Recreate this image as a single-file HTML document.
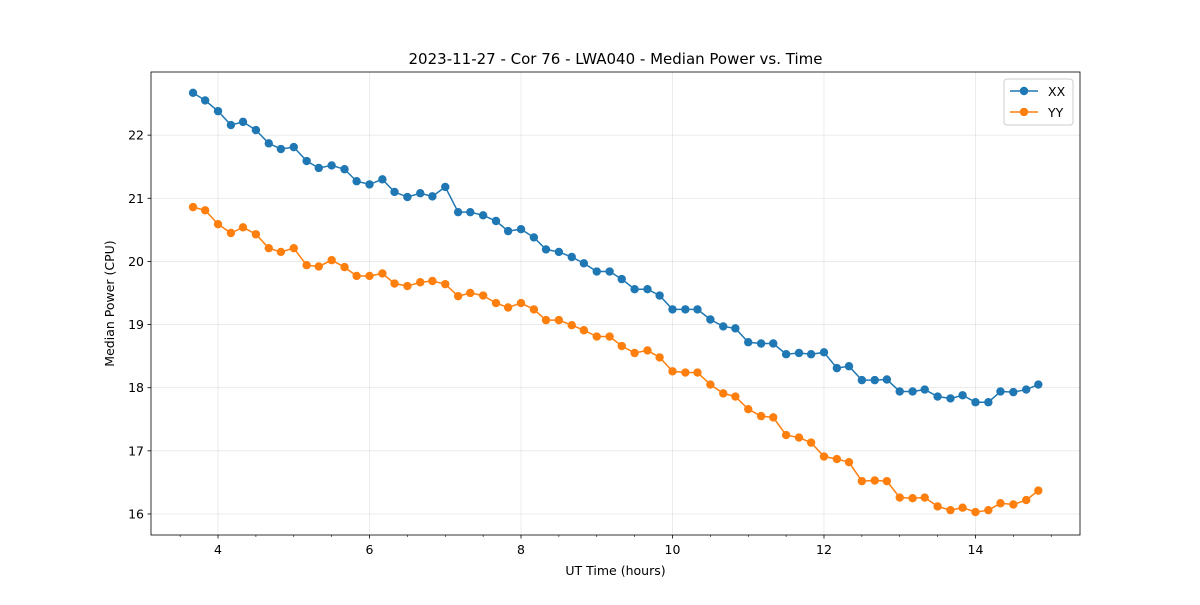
<!DOCTYPE html>
<html><head><meta charset="utf-8"><style>
body{margin:0;background:#fff;font-family:"Liberation Sans","DejaVu Sans",sans-serif}
svg text{font-family:"DejaVu Sans","Liberation Sans",sans-serif}
</style></head><body>
<svg id="chart" width="1200" height="600" xmlns="http://www.w3.org/2000/svg"></svg>
<script>
const times=[3.67,3.83,4.00,4.17,4.33,4.50,4.67,4.83,5.00,5.17,5.33,5.50,5.67,5.83,6.00,6.17,6.33,6.50,6.67,6.83,7.00,7.17,7.33,7.50,7.67,7.83,8.00,8.17,8.33,8.50,8.67,8.83,9.00,9.17,9.33,9.50,9.67,9.83,10.00,10.17,10.33,10.50,10.67,10.83,11.00,11.17,11.33,11.50,11.67,11.83,12.00,12.17,12.33,12.50,12.67,12.83,13.00,13.17,13.33,13.50,13.67,13.83,14.00,14.17,14.33,14.50,14.67,14.83];
const xx=[22.67,22.55,22.38,22.16,22.21,22.08,21.87,21.78,21.81,21.59,21.48,21.52,21.46,21.27,21.22,21.30,21.10,21.02,21.08,21.03,21.18,20.78,20.78,20.73,20.64,20.48,20.51,20.38,20.19,20.15,20.07,19.97,19.84,19.84,19.72,19.56,19.56,19.46,19.24,19.24,19.24,19.08,18.97,18.94,18.72,18.70,18.70,18.53,18.55,18.53,18.56,18.31,18.34,18.12,18.12,18.13,17.94,17.94,17.97,17.86,17.83,17.88,17.77,17.77,17.94,17.93,17.97,18.05];
const yy=[20.86,20.81,20.59,20.45,20.54,20.43,20.21,20.15,20.21,19.94,19.92,20.02,19.91,19.77,19.77,19.81,19.65,19.61,19.67,19.69,19.64,19.45,19.50,19.46,19.34,19.27,19.34,19.24,19.07,19.07,18.99,18.91,18.81,18.81,18.66,18.55,18.59,18.48,18.26,18.24,18.24,18.05,17.91,17.86,17.66,17.55,17.53,17.25,17.21,17.13,16.91,16.87,16.82,16.52,16.53,16.52,16.26,16.25,16.26,16.12,16.06,16.10,16.03,16.06,16.17,16.15,16.22,16.37];
const xTicks=[4,6,8,10,12,14];
const yTicks=[16,17,18,19,20,21,22];
const L=151,R=1080,T=72,B=535;
const X0=3.115,X1=15.38,Y0=15.667,Y1=23.0;
const sx=v=>L+(v-X0)/(X1-X0)*(R-L);
const sy=v=>B-(v-Y0)/(Y1-Y0)*(B-T);
const svg=document.getElementById('chart');
const NS='http://www.w3.org/2000/svg';
function mk(tag,attrs,parent){const e=document.createElementNS(NS,tag);for(const k in attrs)e.setAttribute(k,attrs[k]);(parent||svg).appendChild(e);return e;}
xTicks.forEach(t=>{const g=mk('line',{x1:sx(t),x2:sx(t),y1:T,y2:B,stroke:'#b0b0b0','stroke-opacity':0.3,'stroke-width':0.8});

});
yTicks.forEach(t=>{const g=mk('line',{x1:L,x2:R,y1:sy(t),y2:sy(t),stroke:'#b0b0b0','stroke-opacity':0.3,'stroke-width':0.8});

});
for(let m=3.5;m<15.4;m+=0.5){if(Number.isInteger(m)&&m%2===0)continue;const e=mk('line',{x1:sx(m),x2:sx(m),y1:B,y2:B+2,stroke:'#000','stroke-width':0.6});

}
xTicks.forEach(t=>{mk('line',{x1:sx(t),x2:sx(t),y1:B,y2:B+3.5,stroke:'#000','stroke-width':0.8});
const e=mk('text',{x:sx(t),y:B+19,'text-anchor':'middle','font-size':12.5});e.textContent=t;

});
yTicks.forEach(t=>{mk('line',{x1:L-3.5,x2:L,y1:sy(t),y2:sy(t),stroke:'#000','stroke-width':0.8});
const e=mk('text',{x:L-7,y:sy(t)+4.5,'text-anchor':'end','font-size':12.5});e.textContent=t;

});
function series(vals,color,name){
 const p=mk('polyline',{points:vals.map((v,i)=>sx(times[i])+','+sy(v)).join(' '),fill:'none',stroke:color,'stroke-width':1.5});
 
 
 vals.forEach((v,i)=>{const c=mk('circle',{cx:sx(times[i]),cy:sy(v),r:4.2,fill:color});
 
 });
}
series(xx,'#1f77b4','xx');
series(yy,'#ff7f0e','yy');
const fr=mk('rect',{x:L,y:T,width:R-L,height:B-T,fill:'none',stroke:'#000','stroke-width':0.8});


let t=mk('text',{x:(L+R)/2,y:64,'text-anchor':'middle','font-size':15});t.textContent='2023-11-27 - Cor 76 - LWA040 - Median Power vs. Time';


t=mk('text',{x:(L+R)/2,y:575,'text-anchor':'middle','font-size':12.5});t.textContent='UT Time (hours)';


t=mk('text',{x:114,y:(T+B)/2,'text-anchor':'middle','font-size':12.5,transform:'rotate(-90 114 '+((T+B)/2)+')'});t.textContent='Median Power (CPU)';


const lg=mk('g',{});


mk('rect',{x:1004,y:79,width:69,height:46,rx:3,fill:'#fff',stroke:'#ccc','stroke-width':1},lg);
[['XX','#1f77b4',91],['YY','#ff7f0e',112]].forEach(([n,c,y])=>{
 const e=mk('g',{},lg);
 
 
 mk('line',{x1:1010,x2:1038,y1:y,y2:y,stroke:c,'stroke-width':1.5},e);
 mk('circle',{cx:1024,cy:y,r:4.2,fill:c},e);
 const tx=mk('text',{x:1048,y:y+5,'font-size':12.5},e);tx.textContent=n;
});
</script>
</body></html>
